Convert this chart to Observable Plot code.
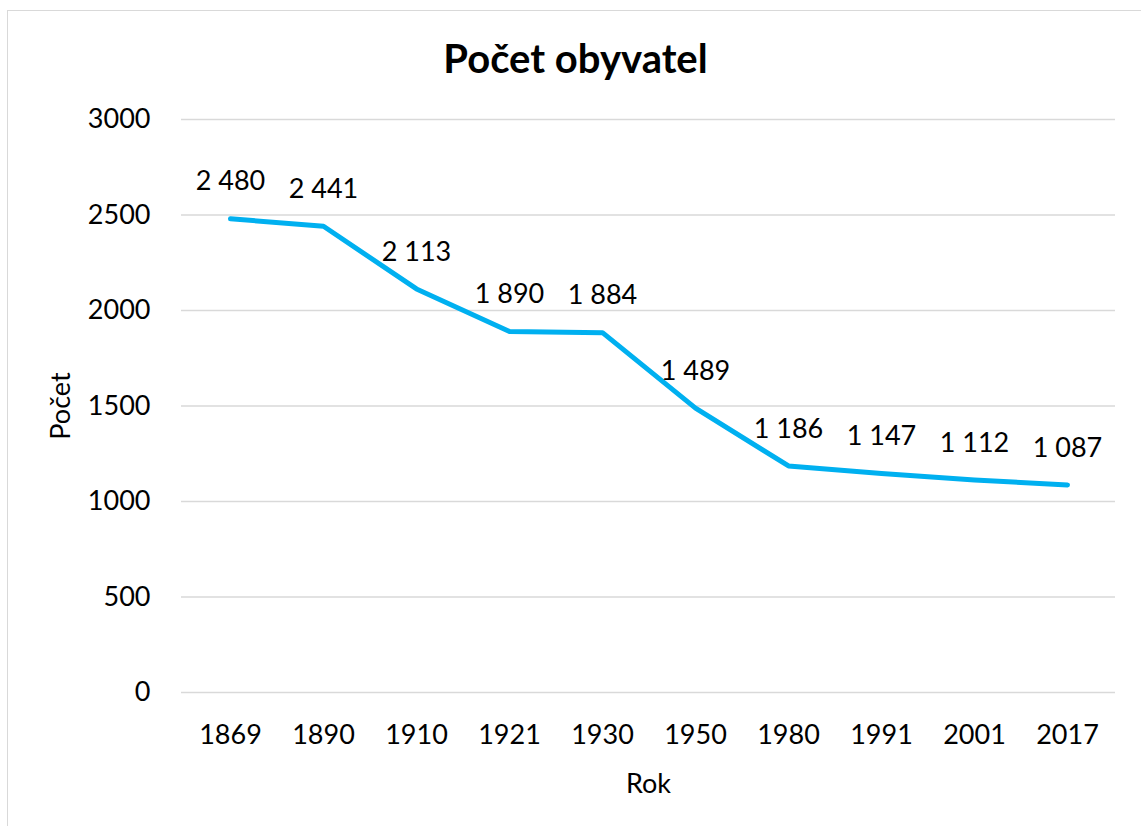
<!DOCTYPE html>
<html>
<head>
<meta charset="utf-8">
<script src="https://cdn.jsdelivr.net/npm/d3@7"></script>
<script src="https://cdn.jsdelivr.net/npm/@observablehq/plot@0.6"></script>
<style>
  html, body { margin: 0; padding: 0; background: #fff; }
  #wrap { position: relative; width: 1141px; height: 826px; overflow: hidden; font-family: Lato, "Open Sans", sans-serif; }
  #frame { position: absolute; left: 7px; top: 10px; width: 1160px; height: 840px; border: 1.5px solid #d9d9d9; box-sizing: border-box; }
  #title { position: absolute; left: 0; top: 33px; width: 1151px; text-align: center; font-size: 40px; font-weight: bold; color: #000; line-height: 50px; }
  #chart { position: absolute; left: 0; top: 90px; }
</style>
</head>
<body>
<div id="wrap">
  <div id="frame"></div>
  <div id="title">Počet obyvatel</div>
  <div id="chart"></div>
</div>
<script>
const years = ["1869", "1890", "1910", "1921", "1930", "1950", "1980", "1991", "2001", "2017"];
const population = [2480, 2441, 2113, 1890, 1884, 1489, 1186, 1147, 1112, 1087];
const yTicks = [0, 500, 1000, 1500, 2000, 2500, 3000];

const fmt = d3.formatLocale({decimal: ",", thousands: "\u00a0", grouping: [3], currency: ["", ""]}).format(",d");
const data = years.map((y, i) => ({year: y, value: population[i]}));

const chart = Plot.plot({
  width: 1141,
  height: 736,
  marginLeft: 181,
  marginRight: 26,
  marginTop: 29,
  marginBottom: 134,
  style: {fontFamily: "Lato, 'Open Sans', sans-serif", fontSize: "27px", color: "#000", background: "transparent", overflow: "visible"},
  x: {type: "point", domain: years, padding: 0.5, label: null},
  y: {domain: [0, 3000], label: null},
  marks: [
    Plot.gridY(yTicks, {stroke: "#d9d9d9", strokeOpacity: 1, strokeWidth: 1.5}),
    Plot.axisY(yTicks, {tickSize: 0, tickPadding: 31, tickFormat: d => String(d), label: "Počet", labelAnchor: "center", labelArrow: "none", labelOffset: 131, fill: "#000"}),
    Plot.axisX(years, {tickSize: 0, tickPadding: 32, label: "Rok", labelAnchor: "center", labelArrow: "none", labelOffset: 100, fill: "#000"}),
    Plot.line(data, {x: "year", y: "value", stroke: "#00b0f0", strokeWidth: 5, strokeLinecap: "round", strokeLinejoin: "round"}),
    Plot.text(data, {x: "year", y: "value", text: d => fmt(d.value), dy: -37, lineAnchor: "middle", textAnchor: "middle", fill: "#000", fontSize: 27})
  ]
});
document.getElementById("chart").appendChild(chart);
</script>
</body>
</html>
